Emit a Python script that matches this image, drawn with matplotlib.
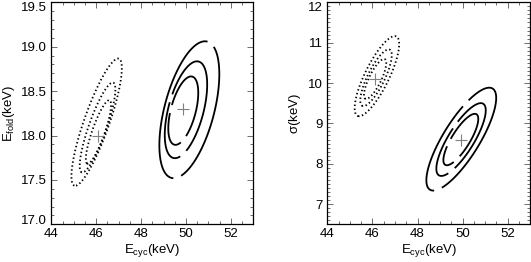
import numpy as np
import matplotlib
matplotlib.use("Agg")
import matplotlib.pyplot as plt
from matplotlib.ticker import MultipleLocator

plt.rcParams['font.family'] = ['Liberation Sans', 'DejaVu Sans']
plt.rcParams['mathtext.fontset'] = 'custom'
plt.rcParams['mathtext.rm'] = 'Liberation Sans'
plt.rcParams['mathtext.it'] = 'Liberation Sans'

# confidence levels (delta chi^2 for 68%, 90%, 99%, 2 parameters)
levels = [2.30, 4.61, 9.21]

# best-fit points
left_best_x = [49.85, 46.08]
left_best_y = [18.30, 18.00]
right_best_x = [49.93, 46.12]
right_best_y = [8.58, 10.10]

# error contours: per-ring centres (inner, middle, outer), sigmas and correlation
left_solid = dict(cx=[49.88, 50.00, 50.15], cy=[18.28, 18.29, 18.29],
                  sx=0.44, sy=0.254, rho=0.52)
left_dotted = dict(cx=[46.10, 46.06, 46.02], cy=[18.04, 18.09, 18.15],
                   sx=0.37, sy=0.236, rho=0.85)
right_solid = dict(cx=[49.92, 49.93, 49.94], cy=[8.60, 8.60, 8.61],
                   sx=0.51, sy=0.42, rho=0.80)
right_dotted = dict(cx=[46.12, 46.16, 46.20], cy=[10.10, 10.13, 10.17],
                    sx=0.325, sy=0.327, rho=0.80)

# label-gap positions on the solid contours (inner, middle, outer)
left_gaps = [[(49.30, 18.30), (49.83, 17.97)],
             [(49.07, 18.44), (49.79, 17.82)],
             [(51.14, 19.04), (49.56, 17.57)]]
right_gaps = [[(49.30, 8.55), (49.71, 8.13)],
              [(49.45, 9.05), (49.49, 7.84)],
              [(50.04, 9.55), (48.90, 7.38)]]

xlim = (44, 53)
left_ylim = (17.0, 19.5)
right_ylim = (6.5, 12.0)
xticks = [44, 46, 48, 50, 52]
left_yticks = [17.0, 17.5, 18.0, 18.5, 19.0, 19.5]
right_yticks = [7, 8, 9, 10, 11, 12]


def chi2_surface(p, i, xr, yr):
    x = np.linspace(xr[0], xr[1], 500)
    y = np.linspace(yr[0], yr[1], 500)
    X, Y = np.meshgrid(x, y)
    dx = (X - p['cx'][i]) / p['sx']
    dy = (Y - p['cy'][i]) / p['sy']
    r = p['rho']
    Z = (dx**2 - 2 * r * dx * dy + dy**2) / (1 - r**2)
    return X, Y, Z


fig = plt.figure(figsize=(5.31, 2.62), dpi=100)
axL = fig.add_axes([51.3 / 531, 1 - 224.3 / 262, 202 / 531, 222 / 262])
axR = fig.add_axes([327.3 / 531, 1 - 224.3 / 262, 203 / 531, 222 / 262])

FS = 9.5


def draw(ax, solid, dotted, bx, by, gaps, ylim):
    for i, lev in enumerate(levels):
        X, Y, Z = chi2_surface(dotted, i, xlim, ylim)
        ax.contour(X, Y, Z, levels=[lev], colors='black', linewidths=1.3,
                   linestyles=[(0, (0.8, 1.4))])
        X, Y, Z = chi2_surface(solid, i, xlim, ylim)
        cs = ax.contour(X, Y, Z, levels=[lev], colors='black',
                        linewidths=1.3, linestyles='solid')
        labs = ax.clabel(cs, inline=True, fmt='00', fontsize=4,
                         manual=gaps[i], inline_spacing=1)
        for t in labs:
            t.set_visible(False)
    ax.plot(bx, by, linestyle='none', marker='+', markersize=8,
            markeredgewidth=0.8, color='#808080')
    ax.set_xlim(*xlim)
    ax.set_ylim(*ylim)
    ax.set_xticks(xticks)
    ax.xaxis.set_minor_locator(MultipleLocator(0.5))
    ax.yaxis.set_minor_locator(MultipleLocator(0.1))
    ax.tick_params(which='both', direction='in', top=True, right=True,
                   labelsize=FS, color='#555555', pad=3)
    ax.tick_params(which='major', length=4, width=0.6)
    ax.tick_params(which='minor', length=2, width=0.6)
    ax.set_xlabel(r'E$_{\mathrm{cyc}}$(keV)', fontsize=FS, labelpad=1)
    for s in ax.spines.values():
        s.set_linewidth(0.9)


draw(axL, left_solid, left_dotted, left_best_x, left_best_y, left_gaps, left_ylim)
axL.set_yticks(left_yticks)
axL.set_yticklabels(['%.1f' % v for v in left_yticks])
labsL = axL.get_yticklabels()
labsL[-1].set_verticalalignment('top')
labsL[0].set_verticalalignment('baseline')
axL.set_ylabel(r'E$_{\mathrm{fold}}$(keV)', fontsize=FS, labelpad=3)

draw(axR, right_solid, right_dotted, right_best_x, right_best_y, right_gaps, right_ylim)
axR.set_yticks(right_yticks)
labsR = axR.get_yticklabels()
labsR[-1].set_verticalalignment('top')
axR.set_ylabel(r'$\sigma$(keV)', fontsize=FS, labelpad=4)

fig.savefig('out.png', dpi=100)
